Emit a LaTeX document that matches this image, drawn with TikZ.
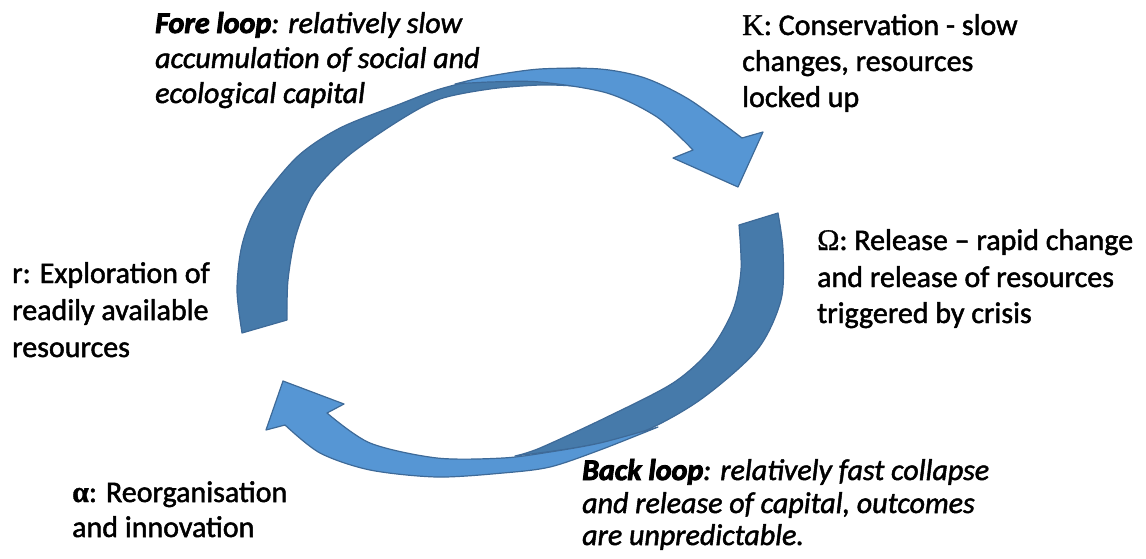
\documentclass[tikz,border=0pt]{standalone}
\usepackage{fontspec}
\setmainfont{Carlito}[FakeBold=1.6, BoldItalicFeatures={FakeBold=3}]
\newfontfamily\greek{Liberation Serif}[FakeBold=1]
\definecolor{arrowlight}{RGB}{86,150,212}
\definecolor{arrowdark}{RGB}{70,122,170}
\definecolor{arrowedge}{RGB}{62,106,152}
\begin{document}
\begin{tikzpicture}[x=1pt,y=-1pt,
  face/.style={fill=arrowlight, draw=arrowedge, line width=1.2pt, line join=round},
  back/.style={fill=arrowdark, draw=arrowedge, line width=1.2pt, line join=round},
  lbl/.style={anchor=base west, inner sep=0pt, font=\fontsize{30}{36}\selectfont},
  loop/.style={lbl, font=\fontsize{30}{36}\selectfont\itshape}]
\useasboundingbox (0,0) rectangle (1146,558);

% fore loop: darker back face rising on the left
\path[back] plot[smooth] coordinates {(242,333) (237,290) (242,245) (258,205) (297,157) (340,128) (400,104) (440,89) (490,77) (545,70) (580,68)}
  -- plot[smooth] coordinates {(575,86) (540,85) (490,89) (440,99) (400,120) (348,156) (314,192) (296,235) (288,280) (287,320)} -- cycle;
% fore loop: front face with the head pointing down to K
\path[face] plot[smooth] coordinates {(455,84) (490,76) (540,69) (600,69) (645,78) (690,100) (742,138)}
  -- (763,132) -- (738,187) -- (673,158)
  -- plot[smooth] coordinates {(693,150) (657,117) (607,93) (540,82) (490,82) (455,84)} -- cycle;

% back loop: darker back face falling on the right
\path[back] plot[smooth] coordinates {(778,213) (783,250) (781,300) (757,350) (700,400) (640,433) (580,447) (515,456)}
  -- plot[smooth] coordinates {(515,456) (540,448) (607,417) (673,383) (710,350) (733,310) (741,270) (739,225)} -- cycle;
% back loop: front face with the head pointing up to r
\path[face] plot[smooth] coordinates {(327,413) (370,443) (437,458) (503,458) (550,452) (600,443) (658,427)}
  -- plot[smooth] coordinates {(658,427) (600,450) (550,467) (503,473) (437,477) (370,470) (320,453) (285,425)}
  -- (266,430) -- (283,381) -- (344,404) -- cycle;

% fore loop caption
\node[loop] (fore1) at (155,33) {\textbf{Fore loop}: relatively slow};
\node[loop] (fore2) at (155,68) {accumulation of social and};
\node[loop] (fore3) at (155,103) {ecological capital};

% K phase
\node[lbl] (k1) at (742,35) {{\greek K}: Conservation - slow};
\node[lbl] (k2) at (742,71) {changes, resources};
\node[lbl] (k3) at (742,107) {locked up};

% Omega phase
\node[lbl] (om1) at (817,250) {{\greek Ω}: Release – rapid change};
\node[lbl] (om2) at (817,287) {and release of resources};
\node[lbl] (om3) at (817,323) {triggered by crisis};

% r phase
\node[lbl] (r1) at (12,283) {r: Exploration of};
\node[lbl] (r2) at (12,320) {readily available};
\node[lbl] (r3) at (12,357) {resources};

% alpha phase
\node[lbl] (a1) at (72,502) {{\greek\bfseries α}: Reorganisation};
\node[lbl] (a2) at (72,537) {and innovation};

% back loop caption
\node[loop] (b1) at (582,480) {\textbf{Back loop}: relatively fast collapse};
\node[loop] (b2) at (582,513) {and release of capital, outcomes};
\node[loop] (b3) at (582,545) {are unpredictable.};
\end{tikzpicture}
\end{document}
